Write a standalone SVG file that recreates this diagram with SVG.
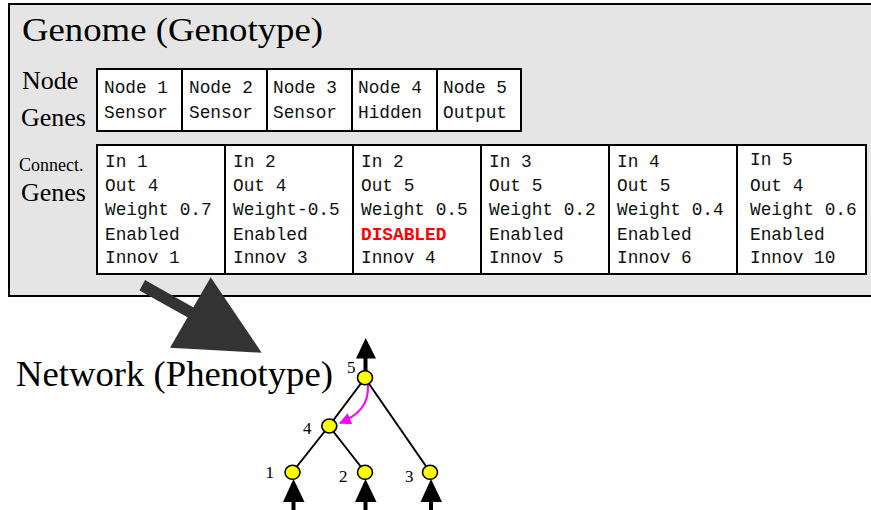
<svg xmlns="http://www.w3.org/2000/svg" width="871" height="510" viewBox="0 0 871 510">
<defs>
<style>
.serif{font-family:"Liberation Serif","Times New Roman",serif;fill:#000}
.mono{font-family:"Liberation Mono","Courier New",monospace;font-size:17.8px;fill:#111}
.cell{fill:#fff;stroke:#000;stroke-width:2}
.edge{stroke:#000;stroke-width:2;fill:none}
.node{fill:#ffff00;stroke:#000;stroke-width:1.6}
.lbl{font-family:"Liberation Serif","Times New Roman",serif;font-size:17px;fill:#000}
.io{fill:#000}
</style>
<marker id="mag" viewBox="0 0 10 10" refX="9" refY="5" markerWidth="6" markerHeight="6" orient="auto" markerUnits="strokeWidth">
<path d="M0,0 L10,5 L0,10 z" fill="#ff00ff"/>
</marker>
</defs>
<rect width="871" height="510" fill="#fff"/>
<g id="genome">
<rect x="9" y="4" width="870" height="292" fill="#e5e5e5" stroke="#000" stroke-width="2"/>
<text class="serif" x="22" y="41" font-size="34.5" textLength="301" lengthAdjust="spacingAndGlyphs">Genome (Genotype)</text>
<text class="serif" x="22" y="89" font-size="26">Node</text>
<text class="serif" x="21" y="126" font-size="26">Genes</text>
<text class="serif" x="19" y="171" font-size="18">Connect.</text>
<text class="serif" x="21" y="201" font-size="26">Genes</text>
</g>
<g id="node-genes">
<g id="ng1"><rect class="cell" x="97" y="69" width="85" height="62"/><text class="mono" x="104" y="93">Node 1</text><text class="mono" x="104" y="118">Sensor</text></g>
<g id="ng2"><rect class="cell" x="182" y="69" width="85" height="62"/><text class="mono" x="189" y="93">Node 2</text><text class="mono" x="189" y="118">Sensor</text></g>
<g id="ng3"><rect class="cell" x="267" y="69" width="85" height="62"/><text class="mono" x="273" y="93">Node 3</text><text class="mono" x="273" y="118">Sensor</text></g>
<g id="ng4"><rect class="cell" x="352" y="69" width="85" height="62"/><text class="mono" x="358" y="93">Node 4</text><text class="mono" x="358" y="118">Hidden</text></g>
<g id="ng5"><rect class="cell" x="437" y="69" width="84" height="62"/><text class="mono" x="443" y="93">Node 5</text><text class="mono" x="443" y="118">Output</text></g>
</g>
<g id="conn-genes">
<g id="cg1"><rect class="cell" x="97" y="145" width="128" height="129"/>
<text class="mono" x="105" y="167">In 1</text><text class="mono" x="105" y="191">Out 4</text><text class="mono" x="105" y="215">Weight 0.7</text><text class="mono" x="105" y="240">Enabled</text><text class="mono" x="105" y="263">Innov 1</text></g>
<g id="cg2"><rect class="cell" x="225" y="145" width="128" height="129"/>
<text class="mono" x="233" y="167">In 2</text><text class="mono" x="233" y="191">Out 4</text><text class="mono" x="233" y="215">Weight-0.5</text><text class="mono" x="233" y="240">Enabled</text><text class="mono" x="233" y="263">Innov 3</text></g>
<g id="cg3"><rect class="cell" x="353" y="145" width="128" height="129"/>
<text class="mono" x="361" y="167">In 2</text><text class="mono" x="361" y="191">Out 5</text><text class="mono" x="361" y="215">Weight 0.5</text><text class="mono" x="361" y="240" style="fill:#ff0000;font-weight:bold">DISABLED</text><text class="mono" x="361" y="263">Innov 4</text></g>
<g id="cg4"><rect class="cell" x="481" y="145" width="128" height="129"/>
<text class="mono" x="489" y="167">In 3</text><text class="mono" x="489" y="191">Out 5</text><text class="mono" x="489" y="215">Weight 0.2</text><text class="mono" x="489" y="240">Enabled</text><text class="mono" x="489" y="263">Innov 5</text></g>
<g id="cg5"><rect class="cell" x="609" y="145" width="128" height="129"/>
<text class="mono" x="617" y="167">In 4</text><text class="mono" x="617" y="191">Out 5</text><text class="mono" x="617" y="215">Weight 0.4</text><text class="mono" x="617" y="240">Enabled</text><text class="mono" x="617" y="263">Innov 6</text></g>
<g id="cg6"><rect class="cell" x="737" y="145" width="129" height="129"/>
<text class="mono" x="750" y="165">In 5</text><text class="mono" x="750" y="191">Out 4</text><text class="mono" x="750" y="215">Weight 0.6</text><text class="mono" x="750" y="240">Enabled</text><text class="mono" x="750" y="263">Innov 10</text></g>
</g>
<g id="big-arrow" fill="#333">
<polygon points="145,280 139.5,290.5 196,322 201.5,312"/>
<polygon points="210.7,277.3 170,347.7 261.7,352.7"/>
</g>
<text id="network-title" class="serif" x="16" y="386" font-size="35" textLength="317" lengthAdjust="spacingAndGlyphs">Network (Phenotype)</text>
<g id="connectors">
<line class="edge" x1="365" y1="378" x2="329" y2="426"/>
<line class="edge" x1="365" y1="378" x2="430" y2="472"/>
<line class="edge" x1="329" y1="426" x2="292.5" y2="472"/>
<line class="edge" x1="329" y1="426" x2="365" y2="472"/>
<path d="M368,385 C369,404 359,415 340,423" stroke="#ff00ff" stroke-width="2" fill="none" marker-end="url(#mag)"/>
<line x1="365.5" y1="356" x2="365.5" y2="372" stroke="#000" stroke-width="4"/>
<polygon class="io" points="365.7,338 356,358.5 376,358.5"/>
<line x1="293.5" y1="500" x2="293.5" y2="510" stroke="#000" stroke-width="4"/>
<polygon class="io" points="293.5,479 283,502 304.5,502"/>
<line x1="365.5" y1="500" x2="365.5" y2="510" stroke="#000" stroke-width="4"/>
<polygon class="io" points="365.5,479 355,502 376.5,502"/>
<line x1="431" y1="500" x2="431" y2="510" stroke="#000" stroke-width="4"/>
<polygon class="io" points="431,479 420.5,502 442,502"/>
</g>
<g id="n5"><ellipse class="node" cx="365" cy="377.7" rx="7.5" ry="7"/><text class="lbl" x="347" y="373">5</text></g>
<g id="n4"><ellipse class="node" cx="329.3" cy="426" rx="7.5" ry="7"/><text class="lbl" x="303" y="434">4</text></g>
<g id="n1"><ellipse class="node" cx="292.5" cy="472.3" rx="7.5" ry="7"/><text class="lbl" x="274" y="478" text-anchor="end">1</text></g>
<g id="n2"><ellipse class="node" cx="365" cy="472.3" rx="7.5" ry="7"/><text class="lbl" x="339" y="482">2</text></g>
<g id="n3"><ellipse class="node" cx="430" cy="472.3" rx="7.5" ry="7"/><text class="lbl" x="405" y="482">3</text></g>
</svg>
